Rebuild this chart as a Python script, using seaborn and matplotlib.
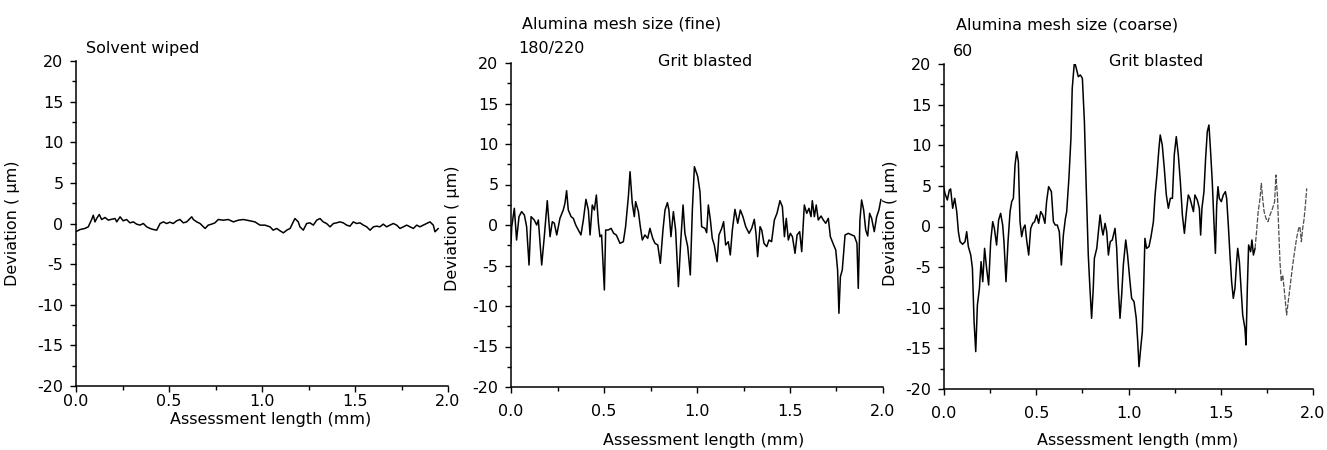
import matplotlib
matplotlib.use('Agg')
import matplotlib.pyplot as plt
from matplotlib.ticker import MultipleLocator, FormatStrFormatter
import seaborn as sns
import pandas as pd

# Surface profiles (x in mm, deviation in um)
solvent_x = [0.0, 0.022, 0.048, 0.066, 0.084, 0.093, 0.102, 0.111, 0.125, 0.138,
             0.156, 0.174, 0.186, 0.21, 0.219, 0.237, 0.254, 0.272, 0.29, 0.308,
             0.326, 0.344, 0.362, 0.38, 0.398, 0.416, 0.434, 0.452, 0.47, 0.487,
             0.505, 0.523, 0.541, 0.559, 0.577, 0.595, 0.622, 0.631, 0.649, 0.667,
             0.694, 0.711, 0.729, 0.747, 0.765, 0.792, 0.819, 0.846, 0.873, 0.9,
             0.935, 0.962, 0.989, 1.016, 1.043, 1.06, 1.079, 1.097, 1.115, 1.133,
             1.151, 1.168, 1.177, 1.195, 1.204, 1.222, 1.24, 1.258, 1.276, 1.294,
             1.312, 1.329, 1.347, 1.366, 1.384, 1.401, 1.419, 1.437, 1.455, 1.473,
             1.491, 1.509, 1.527, 1.545, 1.563, 1.581, 1.599, 1.616, 1.634, 1.652,
             1.67, 1.688, 1.706, 1.724, 1.742, 1.76, 1.778, 1.796, 1.814, 1.832,
             1.849, 1.867, 1.885, 1.903, 1.921, 1.93, 1.939, 1.948]
solvent_y = [-1.0, -0.74, -0.61, -0.41, 0.49, 1.02, 0.2, 0.61, 1.11, 0.49,
             0.74, 0.41, 0.49, 0.61, 0.2, 0.82, 0.33, 0.49, 0.08, 0.2,
             -0.08, -0.2, 0.0, -0.41, -0.61, -0.74, -0.82, 0.0, 0.2, 0.0,
             0.16, 0.0, 0.33, 0.49, 0.08, 0.2, 0.82, 0.49, 0.2, 0.0,
             -0.61, -0.2, -0.08, 0.08, 0.49, 0.41, 0.49, 0.2, 0.41, 0.49,
             0.33, 0.2, -0.2, -0.2, -0.41, -0.82, -0.61, -0.9, -1.15, -0.82,
             -0.61, 0.2, 0.61, 0.2, -0.41, -0.82, 0.0, 0.08, -0.2, 0.41,
             0.61, 0.2, 0.0, -0.41, 0.0, 0.08, 0.2, 0.08, -0.2, -0.33,
             0.2, 0.0, 0.08, -0.2, -0.41, -0.82, -0.41, -0.33, -0.41, -0.08,
             -0.41, -0.2, 0.0, -0.2, -0.61, -0.41, -0.2, -0.41, -0.61, -0.2,
             -0.41, -0.2, 0.0, 0.2, -0.2, -1.02, -0.82, -0.61]

fine_x = [0.0, 0.004, 0.018, 0.03, 0.043, 0.057, 0.072, 0.084, 0.097, 0.108,
          0.125, 0.138, 0.147, 0.165, 0.179, 0.195, 0.21, 0.222, 0.233, 0.246,
          0.263, 0.281, 0.29, 0.299, 0.308, 0.323, 0.335, 0.348, 0.362, 0.376,
          0.389, 0.403, 0.416, 0.425, 0.437, 0.448, 0.459, 0.47, 0.478, 0.487,
          0.502, 0.509, 0.523, 0.538, 0.552, 0.566, 0.586, 0.604, 0.616, 0.631,
          0.64, 0.652, 0.663, 0.67, 0.685, 0.694, 0.706, 0.72, 0.735, 0.747,
          0.762, 0.774, 0.789, 0.803, 0.817, 0.828, 0.841, 0.849, 0.86, 0.873,
          0.885, 0.9, 0.912, 0.925, 0.935, 0.95, 0.964, 0.975, 0.986, 1.004,
          1.016, 1.025, 1.043, 1.052, 1.061, 1.072, 1.082, 1.093, 1.108, 1.118,
          1.133, 1.143, 1.154, 1.168, 1.179, 1.19, 1.204, 1.219, 1.233, 1.247,
          1.262, 1.28, 1.294, 1.308, 1.317, 1.326, 1.339, 1.348, 1.36, 1.375,
          1.387, 1.401, 1.416, 1.43, 1.446, 1.459, 1.47, 1.48, 1.491, 1.502,
          1.513, 1.527, 1.538, 1.552, 1.563, 1.577, 1.59, 1.602, 1.613, 1.62,
          1.631, 1.641, 1.652, 1.667, 1.679, 1.692, 1.706, 1.717, 1.731, 1.746,
          1.756, 1.763, 1.771, 1.781, 1.796, 1.814, 1.832, 1.846, 1.86, 1.867,
          1.876, 1.885, 1.896, 1.907, 1.918, 1.928, 1.939, 1.953, 1.966, 1.978,
          1.989]
fine_y = [-2.26, -0.21, 2.06, -1.85, 1.03, 1.65, 1.23, -0.21, -4.94, 1.03,
          0.62, 0.0, 0.62, -4.94, -1.44, 3.0, -1.44, 0.41, 0.21, -1.23,
          0.82, 1.85, 2.67, 4.24, 1.85, 1.03, 0.82, 0.0, -0.62, -1.23,
          0.62, 3.17, 1.85, -1.23, 2.47, 1.85, 3.7, 0.21, -1.44, -1.23,
          -8.02, -0.62, -0.62, -0.41, -1.03, -1.23, -2.26, -2.06, -0.21, 3.5,
          6.58, 2.67, 1.03, 2.88, 1.65, 0.0, -1.85, -1.23, -1.65, -0.41,
          -1.65, -2.26, -2.47, -4.73, -0.62, 1.85, 2.76, 1.85, -1.44, 1.65,
          -0.62, -7.61, -2.26, 2.47, -1.03, -2.67, -6.17, 1.85, 7.2, 5.97,
          4.12, -0.21, -0.41, -0.95, 2.47, 0.62, -1.65, -2.47, -4.53, -1.23,
          -0.41, 0.41, -2.47, -2.06, -3.7, -0.62, 1.93, 0.21, 1.85, 1.03,
          -0.21, -1.03, -0.41, 0.7, -1.03, -3.91, -0.21, -0.62, -2.26, -2.67,
          -1.85, -2.06, 0.62, 1.44, 3.0, 2.26, -1.44, 0.82, -1.85, -1.03,
          -1.44, -3.5, -1.23, -0.82, -3.29, 2.47, 1.44, 2.06, 1.03, 3.0,
          1.03, 2.47, 0.62, 1.11, 0.62, 0.21, 0.82, -1.44, -2.26, -3.09,
          -5.56, -10.9, -6.38, -5.56, -1.23, -1.03, -1.23, -1.36, -2.26, -7.82,
          0.62, 3.09, 1.85, -0.62, -1.36, 1.44, 0.82, -0.82, 1.03, 1.85,
          3.17]

coarse_x = [0.0, 0.005, 0.018, 0.029, 0.036, 0.047, 0.058, 0.069, 0.078, 0.087,
            0.101, 0.114, 0.123, 0.132, 0.145, 0.154, 0.163, 0.172, 0.181, 0.192,
            0.201, 0.21, 0.22, 0.231, 0.242, 0.253, 0.264, 0.273, 0.285, 0.296,
            0.307, 0.318, 0.325, 0.336, 0.347, 0.358, 0.367, 0.376, 0.385, 0.394,
            0.403, 0.412, 0.421, 0.43, 0.439, 0.448, 0.459, 0.47, 0.481, 0.491,
            0.502, 0.513, 0.524, 0.535, 0.547, 0.556, 0.567, 0.582, 0.593, 0.603,
            0.614, 0.625, 0.636, 0.647, 0.658, 0.665, 0.677, 0.688, 0.695, 0.707,
            0.717, 0.728, 0.739, 0.75, 0.761, 0.771, 0.782, 0.791, 0.8, 0.809,
            0.815, 0.828, 0.837, 0.846, 0.855, 0.862, 0.873, 0.882, 0.891, 0.901,
            0.912, 0.927, 0.936, 0.945, 0.954, 0.963, 0.972, 0.985, 0.995, 1.008,
            1.017, 1.03, 1.042, 1.05, 1.057, 1.066, 1.075, 1.082, 1.089, 1.098,
            1.111, 1.122, 1.135, 1.144, 1.154, 1.165, 1.172, 1.183, 1.194, 1.205,
            1.216, 1.227, 1.238, 1.248, 1.259, 1.27, 1.281, 1.292, 1.303, 1.314,
            1.324, 1.333, 1.352, 1.36, 1.373, 1.384, 1.391, 1.398, 1.409, 1.418,
            1.427, 1.436, 1.445, 1.454, 1.463, 1.471, 1.478, 1.485, 1.492, 1.503,
            1.514, 1.525, 1.532, 1.541, 1.55, 1.559, 1.568, 1.577, 1.586, 1.592,
            1.601, 1.61, 1.619, 1.631, 1.637, 1.644, 1.651, 1.662, 1.669, 1.677,
            1.686, 1.694, 1.703, 1.713, 1.72, 1.727, 1.735, 1.745, 1.756, 1.767,
            1.781, 1.792, 1.799, 1.807, 1.814, 1.821, 1.828, 1.836, 1.847, 1.857,
            1.868, 1.879, 1.89, 1.9, 1.911, 1.922, 1.929, 1.937, 1.944, 1.951,
            1.958, 1.966]
coarse_y = [4.7, 4.08, 3.26, 4.49, 4.62, 2.24, 3.47, 1.83, -0.64, -1.87,
            -2.19, -1.87, -0.64, -2.48, -3.51, -5.15, -11.7, -15.4, -9.66, -7.61,
            -4.33, -6.79, -2.69, -5.15, -7.2, -1.87, 0.59, -0.23, -2.28, 0.8,
            1.62, 0.18, -1.87, -6.79, -1.87, 1.83, 3.06, 3.47, 7.57, 9.21,
            7.98, 0.59, -1.25, -0.23, 0.18, -1.66, -3.51, -0.23, 0.39, 0.59,
            1.42, 0.39, 1.83, 1.42, 0.39, 3.06, 4.9, 4.29, 0.59, 0.18,
            0.18, -0.64, -4.74, -1.05, 1.0, 1.83, 5.93, 10.85, 17.0, 20.3,
            19.47, 18.44, 18.65, 18.24, 12.9, 4.7, -3.51, -7.61, -11.3, -7.61,
            -3.92, -2.69, -0.64, 1.42, -0.23, -1.05, 0.39, -0.64, -3.51, -1.87,
            -1.66, -0.23, -2.69, -7.61, -11.3, -8.43, -4.74, -1.66, -3.51, -6.79,
            -8.84, -9.25, -11.3, -14.17, -17.25, -14.99, -12.94, -7.61, -1.46, -2.69,
            -2.48, -1.25, 0.59, 3.88, 6.34, 9.62, 11.26, 10.03, 7.16, 3.88,
            2.24, 3.47, 3.47, 8.8, 11.06, 8.8, 5.52, 1.42, -0.84, 1.83,
            3.88, 3.47, 1.83, 3.88, 3.26, 2.24, -1.05, 2.24, 4.29, 8.39,
            11.67, 12.49, 9.21, 5.52, 0.59, -3.3, 2.65, 4.9, 3.47, 3.06,
            3.88, 4.29, 3.47, 0.18, -3.51, -6.79, -8.84, -7.61, -4.33, -2.69,
            -4.33, -7.61, -10.89, -12.53, -14.58, -7.61, -2.28, -3.1, -1.66, -3.51,
            -2.69, -0.64, 1.83, 3.47, 5.31, 3.47, 1.83, 1.0, 0.59, 1.42,
            2.24, 3.06, 6.34, 3.88, -0.23, -4.33, -6.79, -5.97, -8.43, -10.89,
            -8.84, -6.79, -4.74, -3.1, -1.46, -0.23, -0.02, -1.87, -0.23, 0.8,
            2.44, 4.7]

fs = 11.5
sns.set_style("ticks")
plt.rcParams['font.family'] = ['DejaVu Sans']
plt.rcParams['font.size'] = fs
plt.rcParams['axes.unicode_minus'] = False
for key in ['text.color', 'axes.labelcolor', 'xtick.color', 'ytick.color',
            'axes.edgecolor']:
    plt.rcParams[key] = 'black'

fig = plt.figure(figsize=(13.27, 4.5), dpi=100)

# axes boxes in figure fractions
boxes = [
    [76 / 1327, 64 / 450, 372 / 1327, 325 / 450],
    [511 / 1327, 63 / 450, 372 / 1327, 324 / 450],
    [944 / 1327, 61 / 450, 369 / 1327, 325 / 450],
]
profiles = [
    (solvent_x, solvent_y),
    (fine_x, fine_y),
    (coarse_x, coarse_y),
]
xlabel_pos = [(0.524, -0.08), (0.519, -0.142), (0.526, -0.135)]
ylabel_pos = [(-0.15, 0.5), (-0.137, 0.49), (-0.125, 0.51)]
xtick_pad = [2, 8, 8]

for i, box in enumerate(boxes):
    ax = fig.add_axes(box)
    xs, ys = profiles[i]
    df = pd.DataFrame({'x': xs, 'y': ys})
    if i == 2:
        # the last part of the coarse trace is faint in the scan
        main = df[df['x'] <= 1.69]
        tail = df[df['x'] >= 1.686]
        sns.lineplot(data=main, x='x', y='y', ax=ax, color='black', lw=1.1,
                     estimator=None, sort=False)
        sns.lineplot(data=tail, x='x', y='y', ax=ax, color='0.3', lw=0.9,
                     estimator=None, sort=False, linestyle=(0, (4, 1.2)))
    else:
        sns.lineplot(data=df, x='x', y='y', ax=ax, color='black', lw=1.1,
                     estimator=None, sort=False)

    ax.set_xlim(0, 2.0)
    ax.set_ylim(-20, 20)
    ax.xaxis.set_major_locator(MultipleLocator(0.5))
    ax.xaxis.set_minor_locator(MultipleLocator(0.25))
    ax.xaxis.set_major_formatter(FormatStrFormatter('%.1f'))
    ax.yaxis.set_major_locator(MultipleLocator(5))
    ax.yaxis.set_minor_locator(MultipleLocator(2.5))
    ax.tick_params(axis='both', which='major', direction='out', length=4,
                   width=1, labelsize=fs, color='black', labelcolor='black')
    ax.tick_params(axis='both', which='minor', direction='out', length=3,
                   width=1, color='black')
    ax.tick_params(axis='x', which='major', pad=xtick_pad[i])
    ax.tick_params(axis='y', which='major', pad=5)
    sns.despine(ax=ax)
    for s in ['left', 'bottom']:
        ax.spines[s].set_linewidth(1.1)
        ax.spines[s].set_color('black')

    ax.set_xlabel('Assessment length (mm)', fontsize=fs, color='black')
    ax.set_ylabel('Deviation ( \u03bcm)', fontsize=fs, color='black')
    ax.xaxis.set_label_coords(*xlabel_pos[i])
    ax.yaxis.set_label_coords(*ylabel_pos[i])

# panel annotations (pixel positions from the scan)
def note(px, py, s):
    fig.text(px / 1327, 1 - py / 450, s, ha='left', va='center',
             fontsize=fs, color='black')

note(86, 49, 'Solvent wiped')
note(522, 24, 'Alumina mesh size (fine)')
note(518, 49, '180/220')
note(658, 61, 'Grit blasted')
note(956, 25, 'Alumina mesh size (coarse)')
note(953, 52, '60')
note(1109, 61, 'Grit blasted')

fig.savefig('out.png', dpi=100, facecolor='white')
